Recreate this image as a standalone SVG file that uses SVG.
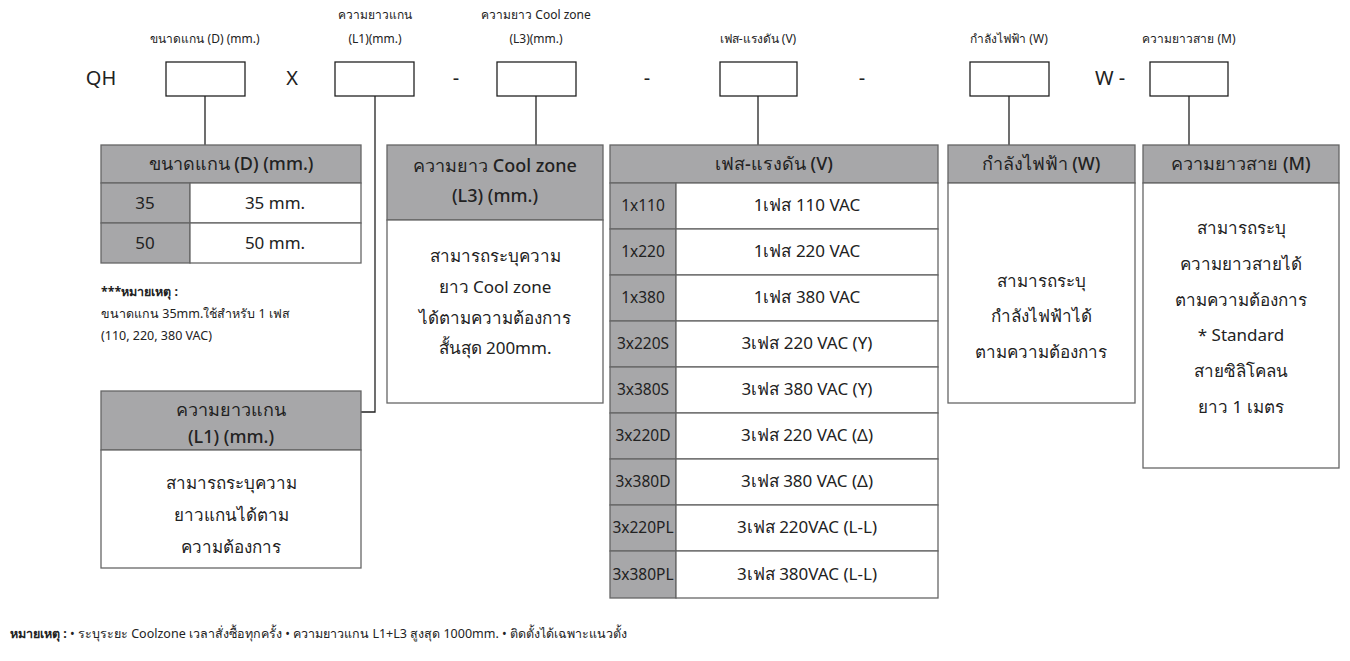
<svg xmlns="http://www.w3.org/2000/svg" width="1350" height="661" viewBox="0 0 1350 661">
<style>
text{font-family:"Noto Sans","DejaVu Sans",sans-serif;fill:#222;text-anchor:middle}
.lab{font-size:12px}
.big{font-size:20px}
.h{font-size:18px;font-weight:500}
.b{font-size:17px}
.k{font-size:15.5px}
.n{font-size:12.5px;text-anchor:start}
.box{fill:#fff;stroke:#222;stroke-width:1.3}
.g{fill:#a7a7a9;stroke:#666;stroke-width:1.3}
.w{fill:#fff;stroke:#666;stroke-width:1.3}
.c{fill:none;stroke:#222;stroke-width:1.3}
</style>
<rect width="1350" height="661" fill="#fff"/>
<g id="code">
<text class="big" x="101" y="85">QH</text>
<rect class="box" x="166" y="62" width="79" height="34"/>
<text class="big" x="292" y="85">X</text>
<rect class="box" x="335" y="62" width="79" height="34"/>
<text class="big" x="456" y="85">-</text>
<rect class="box" x="497" y="62" width="79" height="34"/>
<text class="big" x="647" y="85">-</text>
<rect class="box" x="720" y="62" width="77" height="34"/>
<text class="big" x="862" y="85">-</text>
<rect class="box" x="970" y="62" width="79" height="34"/>
<text class="big" x="1110" y="85">W -</text>
<rect class="box" x="1150" y="62" width="78" height="34"/>
<text class="lab" x="205" y="43">ขนาดแกน (D) (mm.)</text>
<text class="lab" x="375" y="19">ความยาวแกน</text>
<text class="lab" x="375" y="43">(L1)(mm.)</text>
<text class="lab" x="536" y="19">ความยาว Cool zone</text>
<text class="lab" x="536" y="43">(L3)(mm.)</text>
<text class="lab" x="758" y="43">เฟส-แรงดัน (V)</text>
<text class="lab" x="1009" y="43">กำลังไฟฟ้า (W)</text>
<text class="lab" x="1189" y="43">ความยาวสาย (M)</text>
</g>
<g id="connectors">
<path class="c" d="M205 96V145M375 96V412H361M536 96V145M758 96V145M1009 96V145M1189 96V145"/>
</g>
<g id="table-d">
<rect class="g" x="101" y="145" width="260" height="38"/>
<text class="h" x="231" y="170">ขนาดแกน (D) (mm.)</text>
<rect class="g" x="101" y="183" width="89" height="40"/><rect class="w" x="190" y="183" width="171" height="40"/>
<text class="b" x="145" y="209">35</text><text class="b" x="275" y="209">35 mm.</text>
<rect class="g" x="101" y="223" width="89" height="40"/><rect class="w" x="190" y="223" width="171" height="40"/>
<text class="b" x="145" y="249">50</text><text class="b" x="275" y="249">50 mm.</text>
</g>
<g id="note-d">
<text class="n" x="101" y="296"><tspan font-weight="bold">***หมายเหตุ :</tspan></text>
<text class="n" x="101" y="318">ขนาดแกน 35mm.ใช้สำหรับ 1 เฟส</text>
<text class="n" x="101" y="340">(110, 220, 380 VAC)</text>
</g>
<g id="table-l1">
<rect class="g" x="101" y="391" width="260" height="59"/>
<text class="h" x="231" y="416">ความยาวแกน</text>
<text class="h" x="231" y="443">(L1) (mm.)</text>
<rect class="w" x="101" y="450" width="260" height="118"/>
<text class="b" x="231" y="489">สามารถระบุความ</text>
<text class="b" x="231" y="521">ยาวแกนได้ตาม</text>
<text class="b" x="231" y="553">ความต้องการ</text>
</g>
<g id="table-l3">
<rect class="g" x="387" y="145" width="216" height="75"/>
<text class="h" x="495" y="172">ความยาว Cool zone</text>
<text class="h" x="495" y="202">(L3) (mm.)</text>
<rect class="w" x="387" y="220" width="216" height="183"/>
<text class="b" x="495" y="262">สามารถระบุความ</text>
<text class="b" x="495" y="293">ยาว Cool zone</text>
<text class="b" x="495" y="324">ได้ตามความต้องการ</text>
<text class="b" x="495" y="354">สั้นสุด 200mm.</text>
</g>
<g id="table-v">
<rect class="g" x="610" y="145" width="328" height="38"/>
<text class="h" x="774" y="170">เฟส-แรงดัน (V)</text>
<g class="rows">
<rect class="g" x="610" y="183" width="66" height="46"/><rect class="w" x="676" y="183" width="262" height="46"/>
<rect class="g" x="610" y="229" width="66" height="46"/><rect class="w" x="676" y="229" width="262" height="46"/>
<rect class="g" x="610" y="275" width="66" height="46"/><rect class="w" x="676" y="275" width="262" height="46"/>
<rect class="g" x="610" y="321" width="66" height="46"/><rect class="w" x="676" y="321" width="262" height="46"/>
<rect class="g" x="610" y="367" width="66" height="46"/><rect class="w" x="676" y="367" width="262" height="46"/>
<rect class="g" x="610" y="413" width="66" height="46"/><rect class="w" x="676" y="413" width="262" height="46"/>
<rect class="g" x="610" y="459" width="66" height="46"/><rect class="w" x="676" y="459" width="262" height="46"/>
<rect class="g" x="610" y="505" width="66" height="46"/><rect class="w" x="676" y="505" width="262" height="46"/>
<rect class="g" x="610" y="551" width="66" height="47"/><rect class="w" x="676" y="551" width="262" height="47"/>
</g>
<text class="k" x="643" y="211">1x110</text><text class="b" x="807" y="211">1เฟส 110 VAC</text>
<text class="k" x="643" y="257">1x220</text><text class="b" x="807" y="257">1เฟส 220 VAC</text>
<text class="k" x="643" y="303">1x380</text><text class="b" x="807" y="303">1เฟส 380 VAC</text>
<text class="k" x="643" y="349">3x220S</text><text class="b" x="807" y="349">3เฟส 220 VAC (Y)</text>
<text class="k" x="643" y="395">3x380S</text><text class="b" x="807" y="395">3เฟส 380 VAC (Y)</text>
<text class="k" x="643" y="441">3x220D</text><text class="b" x="807" y="441">3เฟส 220 VAC (Δ)</text>
<text class="k" x="643" y="487">3x380D</text><text class="b" x="807" y="487">3เฟส 380 VAC (Δ)</text>
<text class="k" x="643" y="533">3x220PL</text><text class="b" x="807" y="533">3เฟส 220VAC (L-L)</text>
<text class="k" x="643" y="580">3x380PL</text><text class="b" x="807" y="580">3เฟส 380VAC (L-L)</text>
</g>
<g id="table-w">
<rect class="g" x="948" y="145" width="187" height="38"/>
<text class="h" x="1041" y="170">กำลังไฟฟ้า (W)</text>
<rect class="w" x="948" y="183" width="187" height="220"/>
<text class="b" x="1041" y="287">สามารถระบุ</text>
<text class="b" x="1041" y="322">กำลังไฟฟ้าได้</text>
<text class="b" x="1041" y="358">ตามความต้องการ</text>
</g>
<g id="table-m">
<rect class="g" x="1143" y="145" width="196" height="38"/>
<text class="h" x="1241" y="170">ความยาวสาย (M)</text>
<rect class="w" x="1143" y="183" width="196" height="285"/>
<text class="b" x="1241" y="234">สามารถระบุ</text>
<text class="b" x="1241" y="270">ความยาวสายได้</text>
<text class="b" x="1241" y="306">ตามความต้องการ</text>
<text class="b" x="1241" y="341">* Standard</text>
<text class="b" x="1241" y="377">สายซิลิโคลน</text>
<text class="b" x="1241" y="413">ยาว 1 เมตร</text>
</g>
<g id="footer">
<text class="n" x="10" y="638"><tspan font-weight="bold">หมายเหตุ :</tspan> • ระบุระยะ Coolzone เวลาสั่งซื้อทุกครั้ง • ความยาวแกน L1+L3 สูงสุด 1000mm. • ติดตั้งได้เฉพาะแนวตั้ง</text>
</g>
</svg>
